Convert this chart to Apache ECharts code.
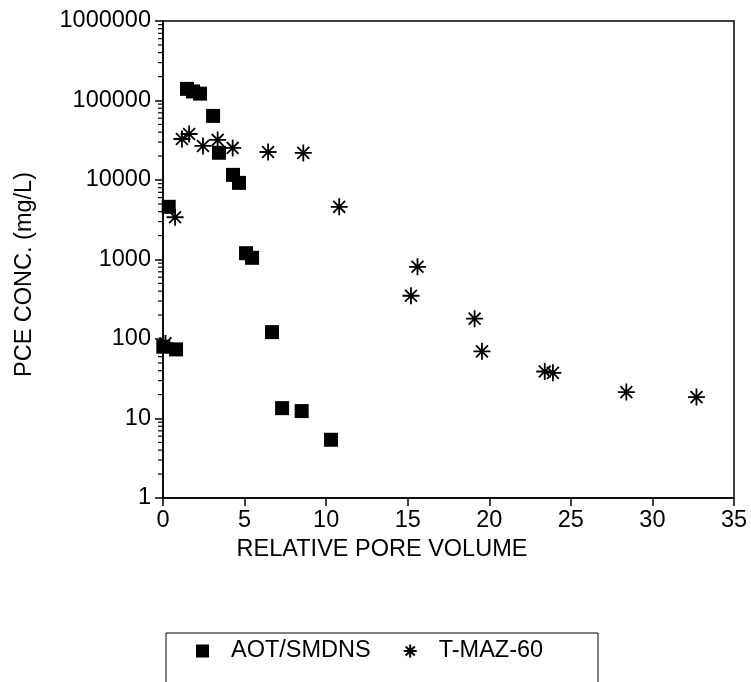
<!DOCTYPE html>
<html lang="en">
<head>
    <meta charset="UTF-8">
    <title>PCE conc. vs relative pore volume</title>
    <script src="https://cdn.jsdelivr.net/npm/echarts@6/dist/echarts.min.js"></script>
    <style>
        html, body { margin: 0; padding: 0; background: #fff; }
        #main { width: 751px; height: 682px; }
    </style>
</head>
<body>
<div id="main"></div>
<script>
    // AOT/SMDNS (squares)
    var aotX = [0.02, 0.8, 0.35, 1.47, 1.84, 2.27, 3.07, 3.43, 4.29, 4.66, 5.09, 5.46, 6.68, 7.3, 8.5, 10.3];
    var aotY = [80, 74, 4600, 140000, 130000, 122000, 64000, 22000, 11600, 9200, 1200, 1050, 122, 13.5, 12.4, 5.4];
    // T-MAZ-60 (asterisks)
    var tmazX = [0.15, 0.74, 1.16, 1.6, 2.45, 3.35, 4.27, 6.44, 8.6, 10.8, 15.2, 15.6, 19.1, 19.55, 23.4, 23.9, 28.4, 32.7];
    var tmazY = [88, 3400, 32800, 37900, 26800, 31900, 25300, 22500, 21900, 4600, 350, 810, 180, 70, 39, 37.5, 21.5, 18.6];

    var xTicks = [0, 5, 10, 15, 20, 25, 30, 35];
    var yDecades = [1, 10, 100, 1000, 10000, 100000, 1000000];

    // minor ticks 2..9 in each decade
    var minorTicks = [];
    for (var d = 0; d < yDecades.length - 1; d++) {
        for (var k = 2; k <= 9; k++) minorTicks.push([0, yDecades[d] * k]);
    }

    function pairs(xs, ys) {
        return xs.map(function (x, i) { return [x, ys[i]]; });
    }

    var FONT = "'Liberation Sans', Arial, sans-serif";
    var FS = 23.5;
    var star = 'path://M0,5L10,5M5,0L5,10M1.5,1.5L8.5,8.5M8.5,1.5L1.5,8.5';

    var chart = echarts.init(document.getElementById('main'));
    chart.setOption({
        animation: false,
        backgroundColor: '#fff',
        grid: {
            left: 163, top: 21, width: 571, height: 477,
            show: true, borderColor: '#000', borderWidth: 1.5, backgroundColor: 'transparent'
        },
        xAxis: {
            type: 'value',
            min: xTicks[0], max: xTicks[xTicks.length - 1], interval: 5,
            name: 'RELATIVE PORE VOLUME',
            nameLocation: 'middle',
            nameGap: 40,
            nameTextStyle: { color: '#000', fontSize: FS, fontFamily: FONT, padding: [0, 133, 0, 0] },
            axisLine: { lineStyle: { color: '#000', width: 1.5 } },
            axisTick: { length: 8, lineStyle: { color: '#000', width: 1.5 } },
            axisLabel: { color: '#000', fontSize: FS, fontFamily: FONT, margin: 11 },
            splitLine: { show: false }
        },
        yAxis: {
            type: 'log',
            logBase: 10,
            min: yDecades[0], max: yDecades[yDecades.length - 1],
            name: 'PCE CONC. (mg/L)',
            nameLocation: 'middle',
            nameGap: 126,
            nameTextStyle: { color: '#000', fontSize: FS, fontFamily: FONT, padding: [0, 30, 0, 0] },
            axisLine: { lineStyle: { color: '#000', width: 1.5 } },
            axisTick: { length: 8, lineStyle: { color: '#000', width: 1.5 } },
            axisLabel: {
                color: '#000', fontSize: FS, fontFamily: FONT, margin: 12,
                formatter: function (v) { return String(Math.round(v)); }
            },
            splitLine: { show: false }
        },
        legend: {
            left: 191, top: 634,
            itemWidth: 13, itemHeight: 13,
            itemGap: 32,
            textStyle: { color: '#000', fontSize: FS, fontFamily: FONT, padding: [0, 0, 0, 17] },
            data: ['AOT/SMDNS', 'T-MAZ-60']
        },
        graphic: [{
            type: 'rect',
            shape: { x: 166, y: 633, width: 432, height: 70 },
            style: { fill: 'none', stroke: '#000', lineWidth: 1 }
        }],
        series: [{
            name: 'minor',
            type: 'custom',
            silent: true,
            data: minorTicks,
            renderItem: function (params, api) {
                var p = api.coord([api.value(0), api.value(1)]);
                return {
                    type: 'line',
                    shape: { x1: p[0] - 5, y1: p[1], x2: p[0], y2: p[1] },
                    style: { stroke: '#000', lineWidth: 1.2 }
                };
            }
        }, {
            name: 'AOT/SMDNS',
            type: 'scatter',
            symbol: 'rect',
            symbolSize: 14,
            itemStyle: { color: '#000', opacity: 1 },
            data: pairs(aotX, aotY)
        }, {
            name: 'T-MAZ-60',
            type: 'scatter',
            symbol: star,
            symbolSize: 17,
            itemStyle: { color: 'transparent', borderColor: '#000', borderWidth: 1.8, opacity: 1 },
            data: pairs(tmazX, tmazY)
        }]
    });
</script>
</body>
</html>
